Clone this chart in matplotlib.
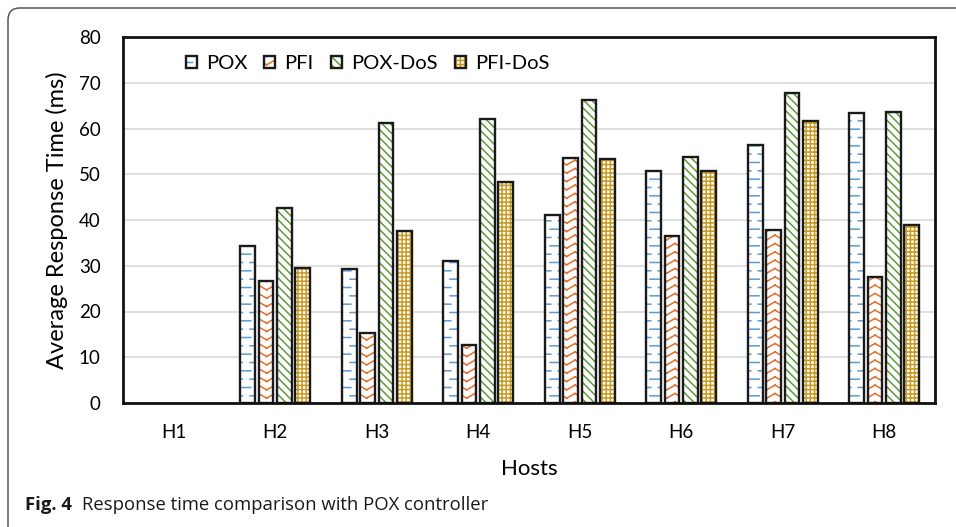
import warnings

import matplotlib
matplotlib.use('Agg')
import matplotlib.pyplot as plt
import matplotlib.hatch as mhatch
import matplotlib.patches as mpatches
import numpy as np
from matplotlib.path import Path

warnings.filterwarnings('ignore', message='hatch must consist')

hosts = ['H1', 'H2', 'H3', 'H4', 'H5', 'H6', 'H7', 'H8']
pox = [0, 34.3, 29.2, 31.0, 41.2, 50.8, 56.4, 63.4]
pfi = [0, 26.7, 15.4, 12.7, 53.6, 36.5, 37.8, 27.6]
pox_dos = [0, 42.7, 61.3, 62.0, 66.2, 53.8, 67.7, 63.7]
pfi_dos = [0, 29.5, 37.6, 48.2, 53.3, 50.8, 61.6, 38.8]

series_names = ['POX', 'PFI', 'POX-DoS', 'PFI-DoS']
yticks = [0, 10, 20, 30, 40, 50, 60, 70, 80]


class DashHatch(mhatch.HatchPatternBase):
    """Short horizontal dashes, every second row shifted half a period ('d')."""

    def __init__(self, hatch, density):
        self.cols = int(hatch.count('d') * density)
        self.rows = 2 * self.cols
        self.num_vertices = self.rows * self.cols * 2

    def set_vertices_and_codes(self, vertices, codes):
        sx = 1.0 / self.cols
        sy = 1.0 / self.rows
        k = 0
        for r in range(self.rows):
            y = (r + 0.5) * sy
            shift = 0.5 * sx * (r % 2)
            for c in range(self.cols):
                x0 = c * sx + shift
                vertices[k] = (x0, y)
                vertices[k + 1] = (x0 + 0.55 * sx, y)
                codes[k] = Path.MOVETO
                codes[k + 1] = Path.LINETO
                k += 2


class ChevronHatch(mhatch.HatchPatternBase):
    """Stacked upward zigzags ('z'), built from separate strokes so nothing is filled."""

    def __init__(self, hatch, density):
        self.cols = int(hatch.count('z') * density)
        self.rows = 2 * self.cols
        self.num_vertices = self.rows * self.cols * 4

    def set_vertices_and_codes(self, vertices, codes):
        sx = 1.0 / self.cols
        sy = 1.0 / self.rows
        amp = 0.28 * sy
        k = 0
        for r in range(self.rows):
            y = (r + 0.5) * sy
            for c in range(self.cols):
                x0 = c * sx
                pts = [(x0, y - amp), (x0 + 0.5 * sx, y + amp),
                       (x0 + 0.5 * sx, y + amp), (x0 + sx, y - amp)]
                for j, p in enumerate(pts):
                    vertices[k + j] = p
                    codes[k + j] = Path.MOVETO if j % 2 == 0 else Path.LINETO
                k += 4


mhatch._hatch_types.extend([DashHatch, ChevronHatch])

plt.rcParams['font.family'] = ['Lato', 'DejaVu Sans']
plt.rcParams['hatch.linewidth'] = 1.1

colors = ['#5B9BD5', '#E2702C', '#5E9A3A', '#C99A22']
hatches = ['d', 'z', '\\\\\\\\', '++++']
values = [pox, pfi, pox_dos, pfi_dos]

fig = plt.figure(figsize=(9.56, 5.27), dpi=100)
ax = fig.add_axes([123 / 956, 124 / 527, 812 / 956, 366 / 527])

x = np.arange(len(hosts))
step = 0.18
width = 0.145
handles = []
for i, (vals, col, hat) in enumerate(zip(values, colors, hatches)):
    pos = x + (i - 1.5) * step
    # empty bars (H1) get no outline so nothing sits on the baseline
    lw = [1.7 if v > 0 else 0 for v in vals]
    fill = ax.bar(pos, vals, width, color='white', edgecolor=col,
                  linewidth=0, hatch=hat, zorder=2)
    outline = ax.bar(pos, vals, width, fill=False, edgecolor='#1a1a1a',
                     linewidth=lw, zorder=3)
    handles.append((fill.patches[-1], outline.patches[-1]))

ax.set_ylim(0, 80)
ax.set_xlim(-0.5, len(hosts) - 0.5)
ax.set_yticks(yticks)
ax.set_xticks(x)
ax.set_xticklabels(hosts)
ax.tick_params(axis='both', length=0, labelsize=13.5)
ax.tick_params(axis='y', pad=16)
ax.tick_params(axis='x', pad=15)
ax.yaxis.grid(True, color='#dcdcdc', linewidth=1.3, zorder=0)
ax.set_axisbelow(True)
for sp in ax.spines.values():
    sp.set_linewidth(2)
    sp.set_color('#111111')
    sp.set_zorder(4)

ax.set_ylabel('Average Response Time (ms)', fontsize=17, labelpad=8)
ax.set_xlabel('Hosts', fontsize=16, labelpad=13)

ax.legend(handles, series_names, loc='upper left', bbox_to_anchor=(0.055, 1.0),
          ncol=4, frameon=False, fontsize=14.5, handlelength=0.55,
          handleheight=0.55, handletextpad=0.45, columnspacing=0.85)

# rounded outer frame around the figure panel
frame = mpatches.FancyBboxPatch((0.08, -0.3), 10.0, 5.27 - 0.08 + 0.3,
                                boxstyle='round,pad=0,rounding_size=0.12',
                                transform=fig.dpi_scale_trans, fill=False,
                                edgecolor='#555555', linewidth=1.1)
fig.add_artist(frame)

fig.text(25 / 956, 17 / 527, 'Fig. 4', fontsize=13.3, fontweight='bold',
         family='Open Sans', va='baseline', color='#1a1a1a')
fig.text(82 / 956, 17 / 527, 'Response time comparison with POX controller',
         fontsize=13.3, family='Open Sans', va='baseline', color='#1a1a1a')

fig.savefig('out.png', dpi=100)
